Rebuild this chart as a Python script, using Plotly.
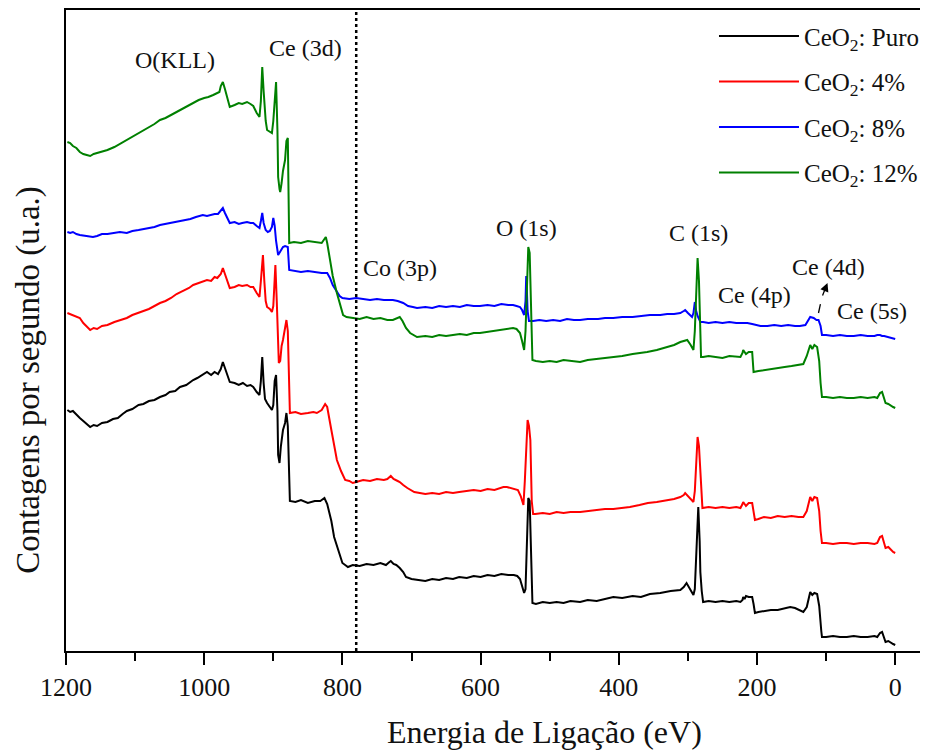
import plotly.graph_objects as go

# ---- Data (binding energy in eV, counts in arbitrary units) ----
energy_puro = [1198,1194,1190,1185,1180,1175,1170,1165,1160,1155,1148,1140,1132,1125,1118,1112,1104,1095,1088,1080,1072,1064,1056,1050,1042,1035,1026,1016,1010,1002,996,990,985,980,976,973,970,966,963,956,950,944,938,933,929,924,920,918,916,914,912,909,905,902,900,898,896,894,893,891,889,886,883,881,879,877,876,868,860,850,840,832,826,822,816,812,806,800,796,792,785,775,765,755,745,737,732,730,726,722,717,712,708,700,690,680,670,660,650,640,631,620,610,600,590,580,570,560,552,547,543,540,537,535,533,531,529,527,525,520,510,500,490,480,470,456,445,432,420,408,395,380,368,355,340,325,311,306,302,298,294,292,290,288,286,285,283,282,280,278,270,260,250,240,230,224,221,220,218,216,212,207,205,203,198,190,180,170,160,152,145,138,133,128,123,120,117,113,110,107,106,100,90,80,70,60,50,40,30,26,22,19,16,14,10,6,3,0]
counts_puro = [241,239,240,236,233,230,227,224,226,225,228,229,232,233,237,240,242,246,247,250,251,254,256,259,260,264,266,271,273,276,279,276,279,277,282,289,283,275,269,268,266,268,265,266,264,259,256,270,294,268,252,248,244,241,246,270,276,240,196,188,205,221,228,238,225,160,150,149,151,148,150,150,153,147,130,114,100,88,86,84,86,85,87,86,88,86,89,90,87,86,83,79,74,72,71,70,72,71,73,72,74,73,75,74,76,75,77,76,76,75,72,66,58,62,110,153,150,90,48,47,49,48,49,48,50,49,51,50,52,54,53,55,54,57,58,60,61,64,68,63,58,56,62,100,140,144,110,79,60,49,50,49,50,49,50,49,51,54,52,55,54,54,47,38,39,40,41,41,43,44,43,41,39,44,59,56,58,57,45,20,14,14,15,14,14,15,14,14,15,14,18,19,13,9,10,8,7,6]

energy_4 = [1198,1194,1190,1185,1180,1175,1170,1165,1160,1155,1148,1140,1130,1120,1112,1104,1095,1088,1080,1072,1064,1056,1048,1040,1030,1022,1016,1008,1002,996,990,985,981,976,973,970,966,963,956,950,945,938,933,929,924,920,918,915,913,911,909,905,902,900,898,897,895,893,892,890,888,886,883,881,879,877,876,868,860,850,842,837,830,825,822,816,812,808,802,796,790,785,780,770,760,750,740,735,730,726,720,717,712,706,696,688,680,670,660,650,640,631,620,610,600,590,580,567,562,555,550,546,542,540,538,536,534,532,530,528,526,524,521,510,500,490,480,470,456,445,430,420,408,396,384,370,358,345,330,320,311,306,304,300,295,292,290,288,286,284,282,281,279,270,260,250,240,230,224,221,220,216,212,207,205,203,198,190,180,170,160,150,140,133,128,123,120,117,113,110,108,106,100,90,80,70,60,50,40,30,26,22,19,16,14,10,6,3,0]
counts_4 = [338,337,336,334,333,328,325,321,323,322,325,326,329,331,333,336,338,340,342,345,348,350,353,357,360,363,366,368,370,371,370,374,373,377,383,377,370,363,364,366,365,366,364,364,358,354,370,396,370,350,344,342,339,345,372,386,350,300,288,290,305,311,322,331,320,248,238,239,237,238,239,238,241,247,244,221,205,191,180,171,170,168,169,171,170,172,171,172,175,172,170,169,166,163,159,158,157,158,157,159,158,159,160,161,160,162,161,164,164,163,162,161,155,150,146,170,200,231,225,211,150,137,137,138,137,139,138,139,139,140,141,142,142,143,144,146,148,149,151,152,154,156,158,155,151,149,160,190,214,205,180,156,143,144,143,144,143,144,143,147,149,145,148,148,141,131,132,134,133,135,134,135,134,134,140,154,150,154,153,140,120,108,108,107,108,108,107,108,108,107,108,114,115,107,103,104,101,99,98]

energy_8 = [1198,1194,1190,1185,1180,1172,1165,1161,1155,1148,1140,1130,1122,1112,1104,1095,1088,1080,1072,1064,1056,1048,1040,1030,1020,1012,1002,996,990,985,980,976,973,970,966,963,956,950,945,938,933,929,924,920,918,916,914,911,908,905,902,900,898,896,893,890,886,883,879,877,870,860,850,840,830,822,818,814,808,804,800,790,780,770,760,750,740,727,720,712,705,698,692,680,670,660,650,640,630,620,610,601,590,580,570,560,553,548,543,540,537,535,534,533,532,530,524,515,505,495,485,475,465,456,445,430,420,408,395,380,368,355,340,330,320,311,306,304,300,294,292,290,288,286,282,278,270,260,250,240,230,224,214,207,200,195,185,175,165,155,145,138,130,126,123,118,114,111,108,106,100,90,80,70,60,50,40,30,26,22,19,16,10,6,3,0]
counts_8 = [419,418,419,417,416,415,414,414,415,417,417,418,419,418,420,421,422,423,424,426,427,428,429,431,432,434,436,435,436,437,437,440,443,438,432,428,429,427,428,429,428,428,425,423,430,438,428,421,419,420,424,433,425,410,396,400,404,405,404,381,380,379,380,379,378,378,373,366,359,355,353,352,353,352,351,352,351,351,350,348,345,344,343,344,343,345,344,345,344,346,345,345,346,345,347,346,346,345,344,341,336,350,375,360,340,330,330,331,330,331,330,332,331,331,332,332,333,333,334,334,335,336,336,337,337,338,340,341,338,334,338,349,340,335,329,329,328,329,328,329,328,328,328,327,326,325,325,326,325,326,325,325,326,330,334,333,331,331,325,316,316,315,316,315,315,316,315,315,316,316,315,315,314,313,313,312]

energy_12 = [1198,1194,1190,1185,1180,1175,1170,1165,1160,1155,1148,1140,1130,1120,1112,1104,1095,1088,1080,1072,1064,1056,1048,1040,1030,1022,1016,1008,1000,994,987,982,978,976,973,970,966,963,956,950,945,938,933,929,924,920,918,916,914,911,909,905,902,900,898,896,894,893,891,890,888,886,883,881,879,878,877,870,860,850,840,830,826,824,822,818,814,808,803,799,794,785,775,765,755,745,735,727,720,717,713,708,702,692,680,670,660,650,640,630,620,610,601,590,580,570,560,553,548,543,540,537,535,533,531,529,527,525,520,510,500,490,480,470,456,445,430,420,408,395,380,368,359,345,330,320,311,306,301,296,292,290,288,286,284,282,281,278,270,260,250,240,230,224,221,220,216,212,207,206,205,198,190,180,170,160,150,140,133,128,123,120,117,113,110,108,106,100,90,80,70,60,50,40,30,26,22,19,16,14,10,6,3,0]
counts_12 = [509,508,505,503,499,497,496,495,497,498,499,501,504,508,511,514,518,521,524,527,531,533,536,539,542,545,548,551,553,554,556,558,559,565,569,562,552,544,546,548,547,549,547,545,538,534,550,584,560,530,521,519,518,530,555,569,520,474,462,459,468,480,491,510,513,470,408,409,408,410,409,408,412,414,408,392,375,358,345,336,334,333,332,334,332,333,331,331,333,334,330,323,318,314,315,314,316,315,316,317,316,318,318,319,320,321,322,323,322,318,310,301,320,370,404,398,340,291,290,289,290,289,291,290,289,291,292,293,294,295,297,298,299,301,304,306,309,310,311,306,301,320,360,393,370,320,294,294,295,294,293,295,294,294,298,301,297,299,299,290,279,280,281,282,283,284,285,286,287,295,306,302,306,304,290,268,254,254,253,254,253,253,254,253,254,253,258,259,251,248,247,245,244,243]

series_names = ["CeO<sub>2</sub>: Puro", "CeO<sub>2</sub>: 4%", "CeO<sub>2</sub>: 8%", "CeO<sub>2</sub>: 12%"]
series_colors = ["#000000", "#ff0000", "#0000ff", "#008000"]

peak_labels = ["O(KLL)", "Ce (3d)", "Co (3p)", "O (1s)", "C (1s)", "Ce (4p)", "Ce (4d)", "Ce (5s)"]
peak_label_energy = [1042, 853, 717, 533, 285, 204, 97, 33]
peak_label_counts = [591, 603, 383, 423, 418, 356, 384, 340]

marker_energy = 780  # dotted reference line

x_ticks = [1200, 1000, 800, 600, 400, 200, 0]

x_title = "Energia de Ligação (eV)"
y_title = "Contagens por segundo (u.a.)"

SERIF = "Liberation Serif"
TXT = "#111111"

fig = go.Figure()
all_x = [energy_puro, energy_4, energy_8, energy_12]
all_y = [counts_puro, counts_4, counts_8, counts_12]
for i, (xs, ys) in enumerate(zip(all_x, all_y)):
    fig.add_trace(go.Scatter(
        x=xs, y=ys, mode="lines", name=series_names[i],
        line=dict(color=series_colors[i], width=2),
        legendgroup=str(i),
    ))

fig.add_shape(type="line", x0=marker_energy, x1=marker_energy, y0=0, y1=1,
              xref="x", yref="paper",
              line=dict(color="black", width=2.5, dash="dot"))

for txt, ex, cy in zip(peak_labels, peak_label_energy, peak_label_counts):
    fig.add_annotation(x=ex, y=cy, text=txt, showarrow=False,
                       font=dict(family=SERIF, size=24, color=TXT))

# small dashed arrow pointing to the Ce (4d) label
fig.add_shape(type="line", x0=111, y0=338, x1=106, y1=354, xref="x", yref="y",
              line=dict(color="black", width=1.3, dash="dash"))
fig.add_annotation(x=98, y=368, ax=106, ay=354, xref="x", yref="y",
                   axref="x", ayref="y", text="", showarrow=True,
                   arrowhead=2, arrowsize=1.3, arrowwidth=1.3, arrowcolor="black")

# axis titles placed as in the reference
fig.add_annotation(x=0.556, y=-0.127, xref="paper", yref="paper", text=x_title,
                   showarrow=False, font=dict(family=SERIF, size=32, color=TXT),
                   xanchor="center", yanchor="middle")
fig.add_annotation(x=-0.043, y=0.423, xref="paper", yref="paper", text=y_title,
                   showarrow=False, textangle=-90,
                   font=dict(family=SERIF, size=33, color=TXT),
                   xanchor="center", yanchor="middle")

# page body has an 8px margin, so the figure is 920x745 and offsets are reduced
fig.update_layout(
    width=920, height=745,
    margin=dict(l=58, r=1, t=2, b=102),
    paper_bgcolor="white", plot_bgcolor="white",
    showlegend=True,
    legend=dict(x=0.7526, y=0.995, xanchor="left", yanchor="top",
                font=dict(family=SERIF, size=25, color=TXT),
                bgcolor="rgba(0,0,0,0)", tracegroupgap=10, itemwidth=80,
                traceorder="grouped"),
    font=dict(family=SERIF, color=TXT),
)

fig.update_xaxes(
    range=[1200, -46], autorange=False, automargin=False,
    tickmode="array", tickvals=x_ticks, ticktext=[str(v) for v in x_ticks],
    ticks="outside", ticklen=12, tickwidth=2, tickcolor="black",
    minor=dict(ticks="outside", ticklen=8, tickwidth=2, tickcolor="black", dtick=100, tick0=0),
    showline=True, linecolor="black", linewidth=2, mirror=True,
    showgrid=False, zeroline=False,
    tickfont=dict(family=SERIF, size=26, color=TXT),
)
fig.update_yaxes(
    range=[0, 641], autorange=False, automargin=False,
    showticklabels=False, ticks="",
    showline=True, linecolor="black", linewidth=2, mirror=True,
    showgrid=False, zeroline=False,
)

fig.write_html("out.html")
